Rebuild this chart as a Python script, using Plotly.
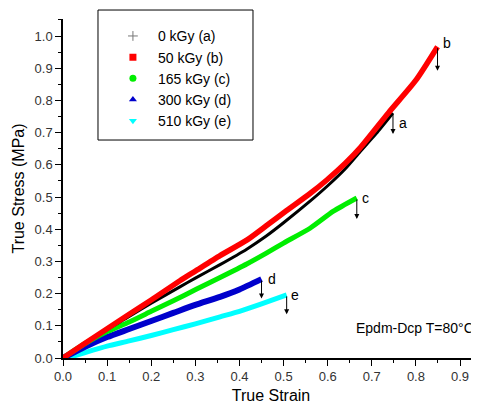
import plotly.graph_objects as go

# ---- data ----
strain_a = [0, 0.05, 0.1, 0.15, 0.2, 0.265, 0.3, 0.356, 0.4165, 0.46, 0.5, 0.56, 0.6, 0.64, 0.673, 0.71, 0.748]
stress_a = [0, 0.044, 0.088, 0.129, 0.17, 0.221, 0.248, 0.29, 0.338, 0.378, 0.42, 0.487, 0.535, 0.588, 0.64, 0.697, 0.761]

strain_b = [0, 0.05, 0.1, 0.15, 0.2, 0.265, 0.3, 0.356, 0.4165, 0.46, 0.507, 0.56, 0.598, 0.64, 0.673, 0.738, 0.8, 0.849]
stress_b = [0, 0.046, 0.091, 0.136, 0.18, 0.24, 0.27, 0.318, 0.366, 0.41, 0.458, 0.511, 0.553, 0.605, 0.652, 0.762, 0.863, 0.967]

strain_c = [0, 0.05, 0.1, 0.15, 0.2, 0.25, 0.303, 0.356, 0.4165, 0.46, 0.5, 0.56, 0.613, 0.666]
stress_c = [0, 0.045, 0.082, 0.112, 0.145, 0.178, 0.214, 0.25, 0.292, 0.325, 0.357, 0.403, 0.456, 0.497]

strain_d = [0, 0.05, 0.1, 0.15, 0.2, 0.25, 0.3, 0.356, 0.4, 0.45]
stress_d = [0, 0.035, 0.065, 0.09, 0.115, 0.14, 0.165, 0.19, 0.213, 0.245]

strain_e = [0.01, 0.05, 0.1, 0.15, 0.2, 0.25, 0.3, 0.356, 0.4, 0.45, 0.507]
stress_e = [0, 0.017, 0.037, 0.053, 0.07, 0.088, 0.106, 0.128, 0.145, 0.168, 0.196]

series_names = ["0 kGy (a)", "50 kGy (b)", "165 kGy (c)", "300 kGy (d)", "510 kGy (e)"]
series_letters = ["a", "b", "c", "d", "e"]
colors = ["#000000", "#ff0000", "#00ee00", "#0000cc", "#00ffff"]
symbols = ["cross-thin", "square", "circle", "triangle-up", "triangle-down"]
widths = [3, 5.5, 5, 6, 5]

xs = [strain_a, strain_b, strain_c, strain_d, strain_e]
ys = [stress_a, stress_b, stress_c, stress_d, stress_e]

FONT = "Arial, Liberation Sans, sans-serif"

fig = go.Figure()

# draw curves (e, d, c, a, b so red is on top)
for i in [4, 3, 2, 0, 1]:
    fig.add_trace(go.Scatter(x=xs[i], y=ys[i], mode="lines",
                             line=dict(color=colors[i], width=widths[i], shape="spline", smoothing=0.6),
                             showlegend=False, hoverinfo="skip"))

# legend entries (markers only)
for i in range(5):
    mk = dict(color=colors[i], symbol=symbols[i], size=7)
    if i == 0:
        mk = dict(color="#777777", symbol="cross-thin", size=7, line=dict(color="#777777", width=1))
    fig.add_trace(go.Scatter(x=[None], y=[None], mode="markers", name=series_names[i],
                             marker=mk, showlegend=True))

# arrows and letters at the end of each curve
arrow_len = [0.065, 0.075, 0.065, 0.06, 0.06]
label_dx = [0.022, 0.022, 0.02, 0.024, 0.02]
label_dy = [-0.03, 0.012, 0.0, 0.0, 0.0]
for i in range(5):
    xe, ye = xs[i][-1], ys[i][-1]
    fig.add_annotation(x=xe, y=ye - arrow_len[i], ax=xe, ay=ye, axref="x", ayref="y",
                       xref="x", yref="y", showarrow=True, arrowhead=2, arrowsize=1,
                       arrowwidth=1, arrowcolor="black", text="")
    fig.add_annotation(x=xe + label_dx[i], y=ye + label_dy[i], xref="x", yref="y",
                       text=series_letters[i], showarrow=False,
                       font=dict(family=FONT, size=14, color="black"))

fig.add_annotation(x=1.0, y=0.093, xref="paper", yref="y", xanchor="right", xshift=-3,
                   text="Epdm-Dcp T=80°C", showarrow=False,
                   font=dict(family=FONT, size=14, color="black"))

# legend frame
fig.add_shape(type="rect", xref="paper", yref="paper", x0=0.0841, x1=0.4567, y0=0.643, y1=1.0265,
              line=dict(color="black", width=1), fillcolor="white", layer="above")

axis_common = dict(showline=True, linecolor="black", linewidth=1.5, ticks="outside",
                   ticklen=6, tickwidth=1.2, tickcolor="black", showgrid=False, zeroline=False,
                   tickformat=".1f", tickfont=dict(family=FONT, size=13, color="#333333"),
                   minor=dict(ticks="outside", ticklen=3, tickwidth=1, tickcolor="black", dtick=0.05))

fig.update_xaxes(range=[0, 0.943], dtick=0.1, tick0=0,
                 title=dict(text="True Strain", font=dict(family=FONT, size=16, color="black"), standoff=6),
                 **axis_common)
fig.update_yaxes(range=[0, 1.053], dtick=0.1, tick0=0,
                 title=dict(text="True Stress (MPa)", font=dict(family=FONT, size=16, color="black"), standoff=6),
                 **axis_common)

fig.update_layout(
    width=471, height=402,
    margin=dict(l=55, r=0, t=11, b=52),
    plot_bgcolor="white", paper_bgcolor="white",
    font=dict(family=FONT, size=14, color="black"),
    showlegend=True,
    legend=dict(x=0.108, y=0.996, xanchor="left", yanchor="top",
                bgcolor="rgba(0,0,0,0)", borderwidth=0,
                font=dict(family=FONT, size=14, color="black"),
                itemwidth=40, tracegroupgap=0),
)

fig.write_html("out.html")
